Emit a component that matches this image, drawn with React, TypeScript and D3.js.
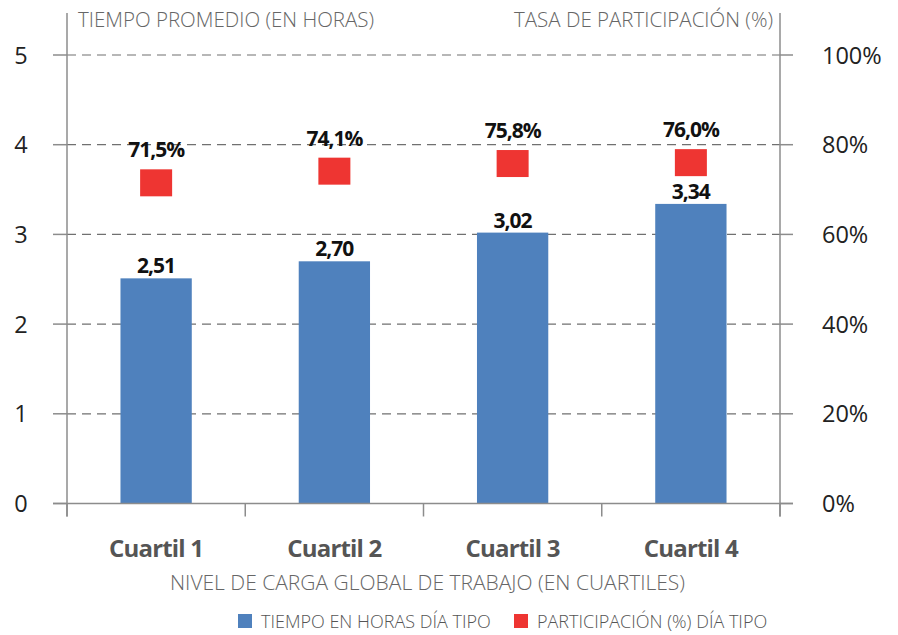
import React, { useEffect, useRef } from "react";
import * as d3 from "d3";

const categories = ["Cuartil 1", "Cuartil 2", "Cuartil 3", "Cuartil 4"];
const hours = [2.51, 2.7, 3.02, 3.34];
const participation = [71.5, 74.1, 75.8, 76.0];
const leftTicks = [0, 1, 2, 3, 4, 5];
const rightTicks = [0, 20, 40, 60, 80, 100];

const fmt = (v: number, digits: number) => v.toFixed(digits).replace(".", ",");

const App: React.FC = () => {
  const svgRef = useRef<SVGSVGElement | null>(null);

  useEffect(() => {
    const width = 898;
    const height = 635;
    const marginLeft = 67;
    const marginRight = 118;
    const marginTop = 55;
    const baseline = 503.5;
    const font = "'Open Sans', 'Noto Sans', sans-serif";

    const svg = d3
      .select(svgRef.current)
      .attr("width", width)
      .attr("height", height)
      .style("display", "block")
      .style("font-family", font);
    svg.selectAll("*").remove();

    const x = d3
      .scaleBand()
      .domain(categories)
      .range([marginLeft, width - marginRight])
      .paddingInner(0.6)
      .paddingOuter(0.3);

    const y = d3.scaleLinear().domain([0, 5]).range([baseline, marginTop]);
    const y2 = d3.scaleLinear().domain([0, 100]).range([baseline, marginTop]);

    const axisColor = "#8c8c8c";
    const xRight = width - marginRight;

    // gridlines
    svg
      .append("g")
      .selectAll("line")
      .data(leftTicks.filter((d) => d > 0))
      .join("line")
      .attr("x1", marginLeft)
      .attr("x2", xRight)
      .attr("y1", (d) => y(d))
      .attr("y2", (d) => y(d))
      .attr("stroke", "#707070")
      .attr("stroke-width", 1.2)
      .attr("stroke-dasharray", "9,6");

    // bars
    svg
      .append("g")
      .selectAll("rect")
      .data(hours)
      .join("rect")
      .attr("x", (_, i) => x(categories[i]) as number)
      .attr("y", (d) => y(d))
      .attr("width", x.bandwidth())
      .attr("height", (d) => baseline - y(d))
      .attr("fill", "#4f81bd");

    svg
      .append("g")
      .selectAll("text")
      .data(hours)
      .join("text")
      .attr("x", (_, i) => (x(categories[i]) as number) + x.bandwidth() / 2)
      .attr("y", (d) => y(d) - 5)
      .attr("text-anchor", "middle")
      .attr("font-size", 21)
      .attr("font-weight", 700)
      .attr("letter-spacing", -1)
      .attr("fill", "#111")
      .text((d) => fmt(d, 2));

    // markers
    const sqW = 32;
    const sqH = 27;
    svg
      .append("g")
      .selectAll("rect")
      .data(participation)
      .join("rect")
      .attr("x", (_, i) => (x(categories[i]) as number) + x.bandwidth() / 2 - sqW / 2)
      .attr("y", (d) => y2(d) - sqH / 2)
      .attr("width", sqW)
      .attr("height", sqH)
      .attr("fill", "#ee3532");

    svg
      .append("g")
      .selectAll("text")
      .data(participation)
      .join("text")
      .attr("x", (_, i) => (x(categories[i]) as number) + x.bandwidth() / 2)
      .attr("y", (d) => y2(d) - sqH / 2 - 12)
      .attr("text-anchor", "middle")
      .attr("font-size", 21)
      .attr("font-weight", 700)
      .attr("letter-spacing", -1)
      .attr("fill", "#111")
      .text((d) => fmt(d, 1) + "%");

    // axes lines
    const axes = svg.append("g").attr("stroke", axisColor).attr("stroke-width", 1.5);
    axes
      .append("line")
      .attr("x1", marginLeft)
      .attr("x2", marginLeft)
      .attr("y1", 13)
      .attr("y2", baseline + 13);
    axes
      .append("line")
      .attr("x1", xRight)
      .attr("x2", xRight)
      .attr("y1", 13)
      .attr("y2", baseline + 13);
    axes
      .append("line")
      .attr("x1", marginLeft - 14)
      .attr("x2", xRight + 13)
      .attr("y1", baseline)
      .attr("y2", baseline);

    // left ticks
    axes
      .append("g")
      .selectAll("line")
      .data(leftTicks)
      .join("line")
      .attr("x1", marginLeft - 14)
      .attr("x2", marginLeft)
      .attr("y1", (d) => y(d))
      .attr("y2", (d) => y(d));
    // right ticks
    axes
      .append("g")
      .selectAll("line")
      .data(rightTicks)
      .join("line")
      .attr("x1", xRight)
      .attr("x2", xRight + 13)
      .attr("y1", (d) => y2(d))
      .attr("y2", (d) => y2(d));
    // category boundary ticks
    const step = x.step();
    axes
      .append("g")
      .selectAll("line")
      .data(d3.range(categories.length + 1))
      .join("line")
      .attr("x1", (i) => marginLeft + i * step)
      .attr("x2", (i) => marginLeft + i * step)
      .attr("y1", baseline)
      .attr("y2", baseline + 13);

    // tick labels
    svg
      .append("g")
      .selectAll("text")
      .data(leftTicks)
      .join("text")
      .attr("x", 21)
      .attr("y", (d) => y(d) + 8.5)
      .attr("text-anchor", "middle")
      .attr("font-size", 23.5)
      .attr("fill", "#222")
      .text((d) => d);

    svg
      .append("g")
      .selectAll("text")
      .data(rightTicks)
      .join("text")
      .attr("x", 822)
      .attr("y", (d) => y2(d) + 8.5)
      .attr("font-size", 23.5)
      .attr("fill", "#222")
      .text((d) => d + "%");

    // category labels
    svg
      .append("g")
      .selectAll("text")
      .data(categories)
      .join("text")
      .attr("x", (d) => (x(d) as number) + x.bandwidth() / 2)
      .attr("y", 557)
      .attr("text-anchor", "middle")
      .attr("font-size", 24)
      .attr("font-weight", 700)
      .attr("letter-spacing", -0.8)
      .attr("fill", "#555")
      .text((d) => d);

    // titles
    const title = (tx: number, ty: number, anchor: string, label: string, size: number) =>
      svg
        .append("text")
        .attr("x", tx)
        .attr("y", ty)
        .attr("text-anchor", anchor)
        .attr("font-size", size)
        .attr("font-weight", 300)
        .attr("fill", "#666")
        .text(label);

    title(78, 27, "start", "TIEMPO PROMEDIO (EN HORAS)", 20.5);
    title(773, 27, "end", "TASA DE PARTICIPACIÓN (%)", 20.5);
    title(427.5, 590, "middle", "NIVEL DE CARGA GLOBAL DE TRABAJO (EN CUARTILES)", 21);

    // legend
    const legend = [
      { label: "TIEMPO EN HORAS DÍA TIPO", color: "#4f81bd", x: 238 },
      { label: "PARTICIPACIÓN (%) DÍA TIPO", color: "#ee3532", x: 514 },
    ];
    const lg = svg.append("g");
    legend.forEach((l) => {
      lg.append("rect")
        .attr("x", l.x)
        .attr("y", 614)
        .attr("width", 14)
        .attr("height", 14)
        .attr("fill", l.color);
      lg.append("text")
        .attr("x", l.x + 23)
        .attr("y", 628)
        .attr("font-size", 18)
        .attr("font-weight", 300)
        .attr("fill", "#555")
        .text(l.label);
    });
  }, []);

  return (
    <div style={{ position: "absolute", left: 0, top: 0 }}>
      <svg ref={svgRef}></svg>
    </div>
  );
};

export default App;
